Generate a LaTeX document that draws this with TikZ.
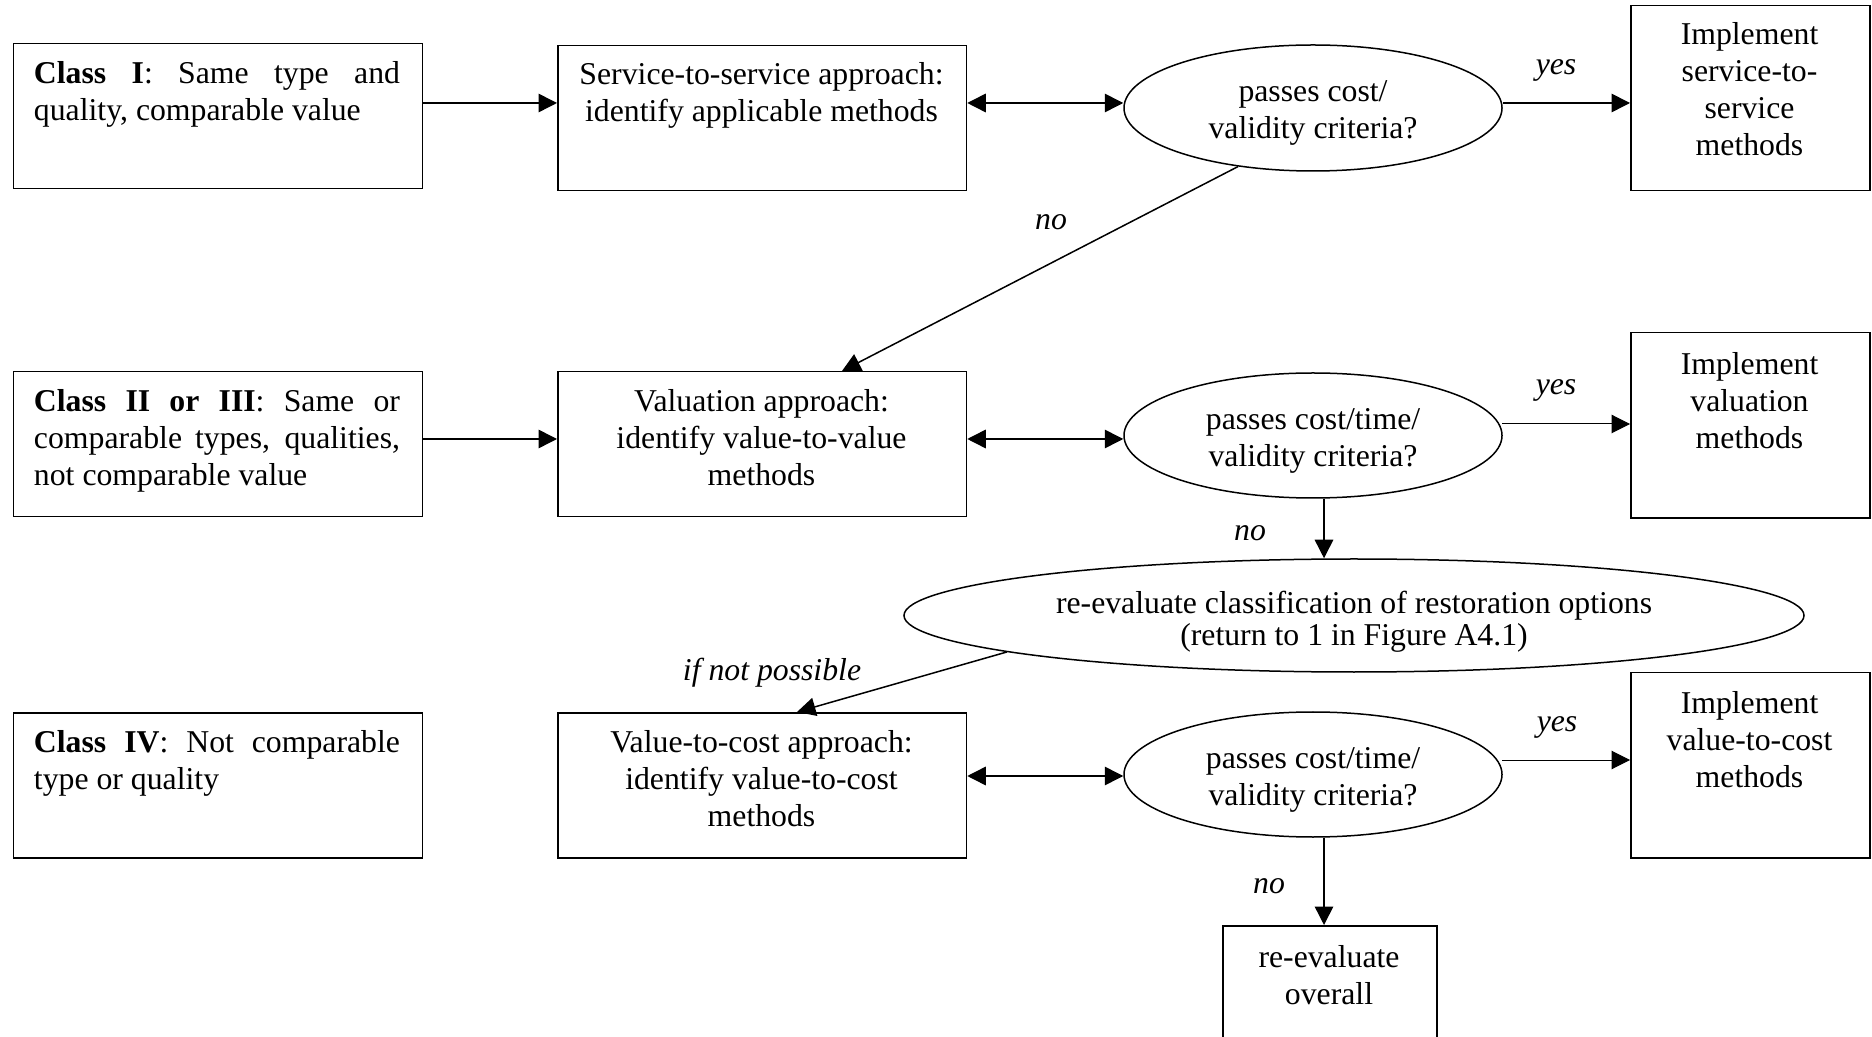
\documentclass[tikz,border=0pt]{standalone}
\usepackage{fontspec}
\setmainfont{Liberation Serif}
\usetikzlibrary{arrows.meta,shapes.geometric}
\begin{document}
\begin{tikzpicture}[x=0.4pt,y=-0.4pt,
  font=\fontsize{12.7pt}{14.8pt}\selectfont,
  box/.style={draw, line width=0.6pt, inner sep=0pt, anchor=north west},
  wbox/.style={box, minimum width=163.5pt, minimum height=58pt},
  ibox/.style={box, minimum width=95.6pt, minimum height=74pt},
  oval/.style={draw, ellipse, line width=0.6pt, inner sep=0pt},
  txt/.style={inner sep=0pt, align=center},
  jtxt/.style={inner sep=0pt, text width=146.4pt, align=justify},
  lab/.style={inner sep=0pt, font=\fontsize{12.7pt}{14.8pt}\selectfont\itshape},
  arr/.style={-{Triangle[length=7.4pt,width=7.4pt]}, line width=0.6pt},
  tarr/.style={-{Triangle[length=7.4pt,width=7.4pt]}, line width=0.4pt},
  darr/.style={{Triangle[length=7.4pt,width=7.4pt]}-{Triangle[length=7.4pt,width=7.4pt]}, line width=0.6pt}]
\clip (0,0) rectangle (1872,1037);
\fill[white] (0,0) rectangle (1872,1037);
\hyphenpenalty=10000

% left column
\node[wbox] (c1) at (12.8,43) {};
\node[wbox] (c2) at (12.8,371) {};
\node[wbox] (c4) at (12.8,712) {};
\node[jtxt] (c1t) at (217,94.5) {\textbf{Class I}: Same type and\linebreak quality, comparable value};
\node[jtxt] (c2t) at (217,440.5) {\textbf{Class II or III}: Same or\linebreak comparable types, qualities,\linebreak not comparable value};
\node[jtxt] (c4t) at (217,763) {\textbf{Class IV}: Not comparable\linebreak type or quality};

% approach column
\node[wbox] (s1) at (557,45) {};
\node[wbox] (s2) at (557,371) {};
\node[wbox] (s3) at (557,712) {};
\node[txt] (s1t) at (761.5,95.5) {Service-to-service approach:\\identify applicable methods};
\node[txt] (s2t) at (761.5,438) {Valuation approach:\\identify value-to-value\\methods};
\node[txt] (s3t) at (761.5,779) {Value-to-cost approach:\\identify value-to-cost\\methods};

% decisions
\node[oval, minimum width=151.2pt, minimum height=50.4pt] (e1) at (1313,108) {};
\node[oval, minimum width=151.2pt, minimum height=50pt] (e2) at (1313,435.5) {};
\node[oval, minimum width=151.2pt, minimum height=50pt] (e3) at (1313,774.5) {};
\node[oval, minimum width=360pt, minimum height=45.2pt] (big) at (1354,615.5) {};
\node[txt] (e1t) at (1313,113) {passes cost/\\validity criteria?};
\node[txt] (e2t) at (1313,440.5) {passes cost/time/\\validity criteria?};
\node[txt] (e3t) at (1313,779.5) {passes cost/time/\\validity criteria?};
\node[txt, font=\fontsize{12.7pt}{13pt}\selectfont] (bigt) at (1354,621.5) {re-evaluate classification of restoration options\\(return to 1 in Figure A4.1)};

% implement column
\node[ibox] (i1) at (1630,5) {};
\node[ibox] (i2) at (1630,332) {};
\node[ibox] (i3) at (1630,672) {};
\node[txt] (i1t) at (1749.5,89.5) {Implement\\service-to-\\service\\methods};
\node[txt] (i2t) at (1749.5,401) {Implement\\valuation\\methods};
\node[txt] (i3t) at (1749.5,740) {Implement\\value-to-cost\\methods};

% final box
\node[box, minimum width=85.6pt, minimum height=48pt] (r) at (1222,925) {};
\node[txt] (rt) at (1329,975) {re-evaluate\\overall};

% connectors row 1
\draw[arr] (c1.east |- 0,103) -- (s1.west |- 0,103);
\draw[darr] (s1.east |- 0,103) -- (e1.west |- 0,103);
\draw[arr] (e1.east |- 0,103) -- (i1.west |- 0,103);
\draw[arr] (e1.218) -- (s2.north -| 842,0);

% row 2
\draw[arr] (c2.east |- 0,439) -- (s2.west |- 0,439);
\draw[darr] (s2.east |- 0,439) -- (e2.west |- 0,439);
\draw[tarr] (1502,424) -- (i2.west |- 0,424);
\draw[arr] (e2.south -| 1324,0) -- (big.north -| 1324,0);
\draw[arr] (big.186) -- (s3.north -| 797,0);

% row 3
\draw[darr] (s3.east |- 0,776) -- (e3.west |- 0,776);
\draw[tarr] (1502,760) -- (i3.west |- 0,760);
\draw[arr] (e3.south -| 1324,0) -- (r.north -| 1324,0);

% labels
\node[lab] (y1) at (1556,70) {yes};
\node[lab] (n1) at (1051,222) {no};
\node[lab] (y2) at (1556,390) {yes};
\node[lab] (n2) at (1250,533) {no};
\node[lab] (inp) at (772,673) {if not possible};
\node[lab] (y3) at (1557,727) {yes};
\node[lab] (n3) at (1269,886) {no};
\end{tikzpicture}
\end{document}
